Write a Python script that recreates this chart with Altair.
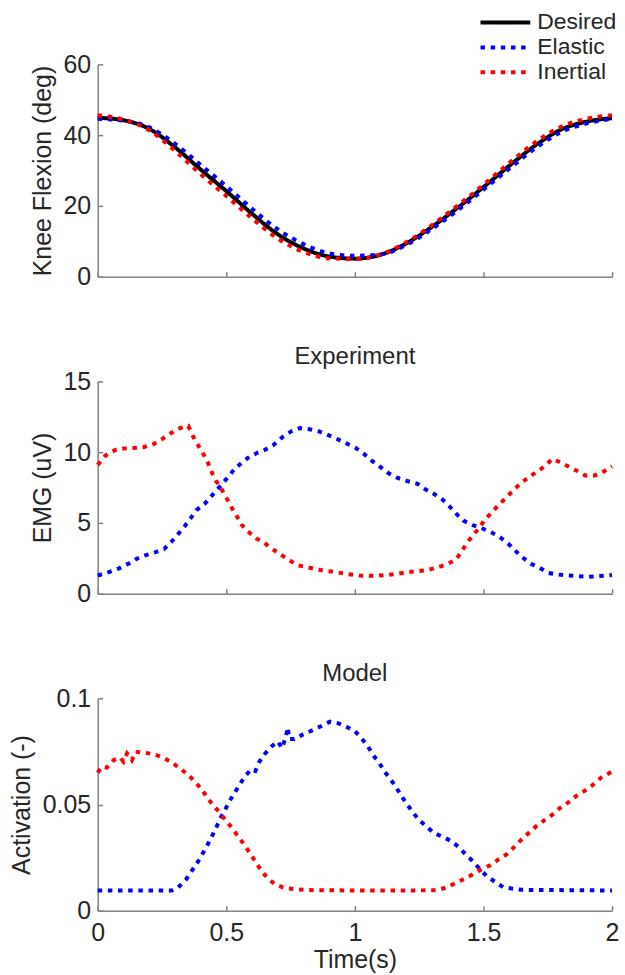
import altair as alt
import pandas as pd

# ---- Knee flexion (deg), sampled every 0.1 s ----
knee_t = [0.0, 0.1, 0.2, 0.3, 0.4, 0.5, 0.6, 0.7, 0.8, 0.9, 1.0,
          1.1, 1.2, 1.3, 1.4, 1.5, 1.6, 1.7, 1.8, 1.9, 2.0]
knee_desired = [44.9, 44.2, 41.8, 36.6, 30.3, 24.2, 17.8, 12.0, 8.0, 5.7, 5.1,
                6.2, 9.4, 14.1, 19.5, 25.3, 31.3, 37.0, 41.5, 43.8, 44.8]
knee_elastic = [44.6, 44.1, 42.2, 37.6, 31.6, 25.6, 19.2, 13.4, 9.2, 6.6, 5.9,
                6.3, 9.0, 13.5, 18.8, 24.6, 30.5, 36.2, 40.8, 43.3, 44.6]
knee_inertial = [45.6, 44.4, 41.4, 35.6, 29.0, 22.8, 16.5, 10.8, 7.0, 5.2, 5.0,
                 6.3, 9.7, 14.6, 20.1, 26.0, 32.1, 37.9, 42.3, 44.6, 45.6]

# ---- Experiment: EMG (uV) ----
emg_inertial_t = [0.0, 0.03, 0.068, 0.1, 0.146, 0.178, 0.217, 0.249, 0.281, 0.32,
                  0.352, 0.371, 0.39, 0.41, 0.43, 0.443, 0.459, 0.481, 0.5, 0.52,
                  0.539, 0.558, 0.584, 0.617, 0.649, 0.678, 0.713, 0.745, 0.778, 0.816,
                  0.855, 0.894, 0.932, 0.971, 1.016, 1.055, 1.094, 1.126, 1.164, 1.203,
                  1.242, 1.28, 1.319, 1.358, 1.393, 1.416, 1.435, 1.461, 1.487, 1.506,
                  1.532, 1.558, 1.586, 1.616, 1.646, 1.674, 1.706, 1.739, 1.767, 1.796,
                  1.829, 1.865, 1.896, 1.932, 1.971, 2.0]
emg_inertial = [9.1, 9.75, 10.15, 10.25, 10.3, 10.35, 10.57, 10.9, 11.3, 11.7,
                11.85, 11.1, 10.5, 9.9, 9.2, 8.6, 8.0, 7.4, 6.8, 6.1,
                5.55, 4.9, 4.4, 3.9, 3.57, 3.17, 2.75, 2.36, 2.0, 1.87,
                1.7, 1.6, 1.5, 1.38, 1.28, 1.26, 1.28, 1.33, 1.4, 1.52,
                1.59, 1.66, 1.84, 2.08, 2.4, 3.0, 3.57, 4.15, 4.74, 5.25,
                5.72, 6.25, 6.74, 7.3, 7.82, 8.2, 8.6, 9.0, 9.52, 9.3,
                9.0, 8.66, 8.35, 8.35, 8.66, 9.0]
emg_elastic_t = [0.0, 0.043, 0.081, 0.12, 0.152, 0.185, 0.223, 0.258, 0.288, 0.313,
                 0.339, 0.361, 0.384, 0.417, 0.443, 0.468, 0.487, 0.507, 0.533, 0.558,
                 0.584, 0.617, 0.649, 0.681, 0.717, 0.752, 0.787, 0.823, 0.861, 0.897,
                 0.932, 0.967, 1.003, 1.036, 1.068, 1.1, 1.13, 1.164, 1.203, 1.242,
                 1.274, 1.31, 1.341, 1.367, 1.393, 1.422, 1.457, 1.493, 1.532, 1.564,
                 1.597, 1.622, 1.651, 1.684, 1.719, 1.751, 1.79, 1.829, 1.868, 1.906,
                 1.945, 2.0]
emg_elastic = [1.28, 1.52, 1.77, 2.12, 2.47, 2.71, 2.92, 3.15, 3.69, 4.22,
               4.78, 5.32, 5.9, 6.37, 6.91, 7.42, 7.82, 8.24, 8.82, 9.22,
               9.59, 9.92, 10.15, 10.46, 11.04, 11.46, 11.7, 11.62, 11.46, 11.2,
               10.92, 10.62, 10.3, 9.87, 9.36, 8.94, 8.52, 8.19, 7.96, 7.77,
               7.37, 7.02, 6.65, 6.18, 5.67, 5.16, 4.85, 4.62, 4.32, 3.99,
               3.52, 3.06, 2.57, 2.12, 1.82, 1.47, 1.35, 1.28, 1.24, 1.19,
               1.24, 1.31]

# ---- Model: muscle activation (-) ----
act_inertial_t = [0.0, 0.017, 0.036, 0.062, 0.088, 0.1, 0.114, 0.133, 0.146, 0.178,
                  0.217, 0.255, 0.288, 0.32, 0.352, 0.378, 0.404, 0.426, 0.451, 0.475,
                  0.5, 0.524, 0.545, 0.571, 0.593, 0.614, 0.636, 0.662, 0.691, 0.726,
                  0.769, 0.81, 1.0, 1.2, 1.319, 1.358, 1.393, 1.426, 1.457, 1.491,
                  1.526, 1.558, 1.59, 1.62, 1.648, 1.677, 1.706, 1.736, 1.767, 1.796,
                  1.829, 1.861, 1.893, 1.925, 1.958, 2.0]
act_inertial = [0.065, 0.0678, 0.0674, 0.0709, 0.0721, 0.0702, 0.074, 0.0709, 0.0748, 0.0745,
                0.0737, 0.0721, 0.0698, 0.067, 0.064, 0.0607, 0.0572, 0.0532, 0.0493, 0.0461,
                0.0422, 0.0387, 0.0351, 0.0309, 0.0269, 0.023, 0.0189, 0.0151, 0.0123, 0.0107,
                0.0101, 0.0097, 0.0095, 0.0095, 0.0096, 0.011, 0.0131, 0.015, 0.017, 0.0194,
                0.0214, 0.0241, 0.0265, 0.03, 0.0335, 0.0367, 0.0399, 0.0425, 0.0451, 0.0482,
                0.0509, 0.054, 0.0564, 0.0592, 0.0627, 0.0655]
act_elastic_t = [0.0, 0.288, 0.313, 0.343, 0.365, 0.387, 0.423, 0.443, 0.462, 0.477,
                 0.494, 0.513, 0.533, 0.549, 0.571, 0.597, 0.613, 0.629, 0.649, 0.675,
                 0.7, 0.717, 0.733, 0.739, 0.745, 0.765, 0.797, 0.836, 0.872, 0.903,
                 0.936, 0.967, 1.001, 1.026, 1.052, 1.07, 1.094, 1.113, 1.139, 1.161,
                 1.181, 1.203, 1.226, 1.251, 1.276, 1.306, 1.341, 1.375, 1.403, 1.431,
                 1.461, 1.487, 1.513, 1.545, 1.577, 1.616, 1.648, 2.0]
act_elastic = [0.0095, 0.0095, 0.011, 0.0146, 0.0186, 0.0225, 0.03, 0.0347, 0.0394, 0.0435,
               0.0472, 0.0517, 0.0556, 0.0588, 0.063, 0.0666, 0.0658, 0.0702, 0.0737, 0.0772,
               0.0797, 0.0765, 0.0824, 0.0863, 0.0808, 0.0808, 0.0829, 0.085, 0.0871, 0.089,
               0.0882, 0.0866, 0.0844, 0.0812, 0.0772, 0.0734, 0.0698, 0.0658, 0.0619, 0.058,
               0.054, 0.0501, 0.0462, 0.0425, 0.0399, 0.0367, 0.0348, 0.0328, 0.03, 0.0265,
               0.023, 0.0194, 0.0162, 0.0136, 0.011, 0.0103, 0.0098, 0.0095]

conditions = ["Desired", "Elastic", "Inertial"]
line_colors = ["#000000", "#0000ff", "#ff0000"]
line_dashes = [[1, 0], [4.5, 5.7], [4.5, 5.7]]
x_ticks = [0, 0.5, 1, 1.5, 2]

FONT = "Liberation Sans"
TEXT = "#262626"
AXIS = "#808080"
W, H = 516, 213
PLAIN = "'' + datum.value"   # 0.05, 0.1, 1.5, 60 ... without padding zeros


def long_frame(series):
    rows = []
    for name, ts, vs in series:
        for t, v in zip(ts, vs):
            rows.append({"t": t, "v": v, "cond": name})
    return pd.DataFrame(rows)


def panel(df, ymax, yticks, ytitle, xlabels, title="", interp="linear"):
    xscale = alt.Scale(domain=[0, 2], nice=False, zero=False)
    yscale = alt.Scale(domain=[0, ymax], nice=False)
    x_enc = alt.X("t:Q", scale=xscale, title="Time(s)" if xlabels else None,
                  axis=alt.Axis(orient="bottom", values=x_ticks, ticks=False,
                                labels=xlabels, labelExpr=PLAIN, grid=False,
                                domainColor=AXIS, domainWidth=1.5,
                                labelFont=FONT, labelFontSize=25, labelColor=TEXT,
                                labelPadding=10, labelFlush=False, labelOverlap=False,
                                titleFont=FONT, titleFontSize=25, titleColor=TEXT,
                                titleFontWeight="normal", titlePadding=2))
    lines = alt.Chart(df).mark_line(strokeWidth=4, strokeCap="butt",
                                    interpolate=interp).encode(
        x=x_enc,
        y=alt.Y("v:Q", scale=yscale, title=ytitle,
                axis=alt.Axis(values=yticks, ticks=False, grid=False, labelExpr=PLAIN,
                              domainColor=AXIS, domainWidth=1.5,
                              labelFont=FONT, labelFontSize=25, labelColor=TEXT,
                              labelPadding=7, labelFlush=False, labelOverlap=False,
                              titleFont=FONT, titleFontSize=25, titleColor=TEXT,
                              titleFontWeight="normal", titlePadding=8)),
        color=alt.Color("cond:N", title=None,
                        scale=alt.Scale(domain=conditions, range=line_colors)),
        strokeDash=alt.StrokeDash("cond:N", title=None,
                                  scale=alt.Scale(domain=conditions, range=line_dashes)),
    )
    # inward-pointing ticks: mirrored axes pulled back onto the plot edges
    ticks = alt.Chart(df).mark_line(opacity=0).encode(
        x=alt.X("t:Q", scale=xscale, title=None,
                axis=alt.Axis(orient="top", offset=-H, values=x_ticks, labels=False,
                              domain=False, grid=False, tickSize=5, tickColor=AXIS,
                              tickWidth=1.5)),
        y=alt.Y("v:Q", scale=yscale, title=None,
                axis=alt.Axis(orient="right", offset=-W, values=yticks, labels=False,
                              domain=False, grid=False, tickSize=5, tickColor=AXIS,
                              tickWidth=1.5)),
    )
    layer = alt.layer(lines, ticks).resolve_axis(x="independent", y="independent")
    props = dict(width=W, height=H)
    if title:
        props["title"] = alt.TitleParams(title, font=FONT, fontSize=24, color=TEXT,
                                         fontWeight="normal", frame="group",
                                         offset=16, dy=16)
    return layer.properties(**props)


knee_df = long_frame([("Desired", knee_t, knee_desired),
                      ("Elastic", knee_t, knee_elastic),
                      ("Inertial", knee_t, knee_inertial)])
emg_df = long_frame([("Elastic", emg_elastic_t, emg_elastic),
                     ("Inertial", emg_inertial_t, emg_inertial)])
act_df = long_frame([("Elastic", act_elastic_t, act_elastic),
                     ("Inertial", act_inertial_t, act_inertial)])

p1 = panel(knee_df, 60, [0, 20, 40, 60], "Knee Flexion (deg)", False, interp="monotone")
p2 = panel(emg_df, 15, [0, 5, 10, 15], "EMG (uV)", False, title="Experiment")
p3 = panel(act_df, 0.1, [0, 0.05, 0.1], "Activation (-)", True, title="Model")

# legend swatch: a horizontal segment about 50 px long (2.27 x the symbol radius scale)
chart = alt.vconcat(p1, p2, p3, spacing=105, bounds="flush").properties(
    padding={"left": 9, "top": 8, "right": 5, "bottom": 5}
).configure_view(stroke=None).configure_legend(
    orient="none", legendX=396, legendY=-55,
    symbolType="M-2.27,0H2.27", symbolSize=484, symbolStrokeWidth=4,
    labelFont=FONT, labelFontSize=23, labelColor=TEXT, labelOffset=19,
    rowPadding=0, padding=0, labelLimit=300,
)

chart.save("out.html", embed_options={"renderer": "svg", "actions": False})
